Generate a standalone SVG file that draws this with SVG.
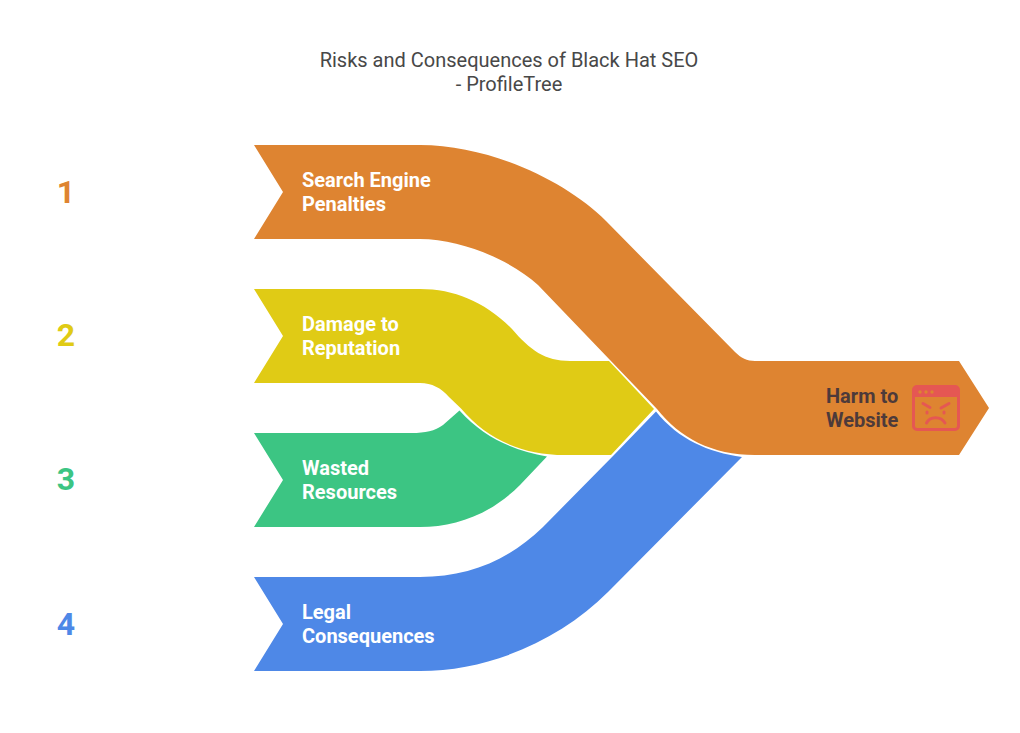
<svg xmlns="http://www.w3.org/2000/svg" width="1020" height="733" viewBox="0 0 1020 733">
<style>
text{font-family:Roboto,"Liberation Sans",sans-serif}
.t{font-size:20px;fill:#484848;text-anchor:middle}
.l{font-size:20px;font-weight:700;fill:#fff}
.n{font-size:32px;font-weight:700;text-anchor:middle}
</style>
<rect width="1020" height="733" fill="#fff"/>
<g id="title"><text class="t" x="509" y="66.500">Risks and Consequences of Black Hat SEO</text><text class="t" x="509" y="90.500">- ProfileTree</text></g>
<g id="connectors"></g>
<g id="node-4"><path fill="#4E88E7" d="M254,577H420C468,577 508,561 543,527L613,456L656,411.500C679,440 708,452 742,457L608,592C560,640 490,671 420,671H254L283,624Z"/><text class="n" x="66" y="635" fill="#4E88E7">4</text><text class="l"><tspan x="302" y="618.500">Legal</tspan><tspan x="302" y="642.500">Consequences</tspan></text></g>
<g id="node-3"><path fill="#3CC583" d="M254,433H412C425,433 435,431 443,425L459.500,410.500C484,438 515,451 547,456.500L520,485C490,515 455,527 420,527H254L283,480Z"/><text class="n" x="66" y="490" fill="#3CC583">3</text><text class="l"><tspan x="302" y="474.500">Wasted</tspan><tspan x="302" y="498.500">Resources</tspan></text></g>
<g id="node-2"><path fill="#E0CB15" d="M254,289H420C455,289 485,302 512,329C530,350 545,361 570,361H609L654,409L611,455H565C520,455 486,438 461,408.500L449,397C441,388 432,383 420,383H254L283,336Z"/><text class="n" x="66" y="346" fill="#E0CB15">2</text><text class="l"><tspan x="302" y="330.500">Damage to</tspan><tspan x="302" y="354.500">Reputation</tspan></text></g>
<g id="node-1"><path fill="#DE8431" d="M254,145H420C490,145 566,181 606,221L735,352C741,358 747,361 755,361H959L989,408L959,455H755C712,455 680,438 657,409L538,285C512,261 462,239 420,239H254L283,192Z"/><text class="n" x="66" y="203" fill="#DE8431">1</text><text class="l"><tspan x="302" y="186.500">Search Engine</tspan><tspan x="302" y="210.500">Penalties</tspan></text></g>
<g id="node-result"><text class="l" style="fill:#4D3A3A"><tspan x="826" y="402.500">Harm to</tspan><tspan x="826" y="426.500">Website</tspan></text>
<path fill="#E55753" fill-rule="evenodd" d="M917,385H955A5,5 0 0 1 960,390V426A5,5 0 0 1 955,431H917A5,5 0 0 1 912,426V390A5,5 0 0 1 917,385ZM915,397V426A2,2 0 0 0 917,428H955A2,2 0 0 0 957,426V397Z"/>
<g fill="#DE8431"><circle cx="920" cy="392" r="1.700"/><circle cx="926" cy="392" r="1.700"/><circle cx="932" cy="392" r="1.700"/></g>
<g fill="none" stroke="#E55753" stroke-width="3" stroke-linecap="round"><path d="M923,403.500L930,407.500M949,403.500L941,408M926.500,423C930,416 941,416 945,423"/><path d="M927,412L927,413M944,412L944,413"/></g></g>
</svg>
